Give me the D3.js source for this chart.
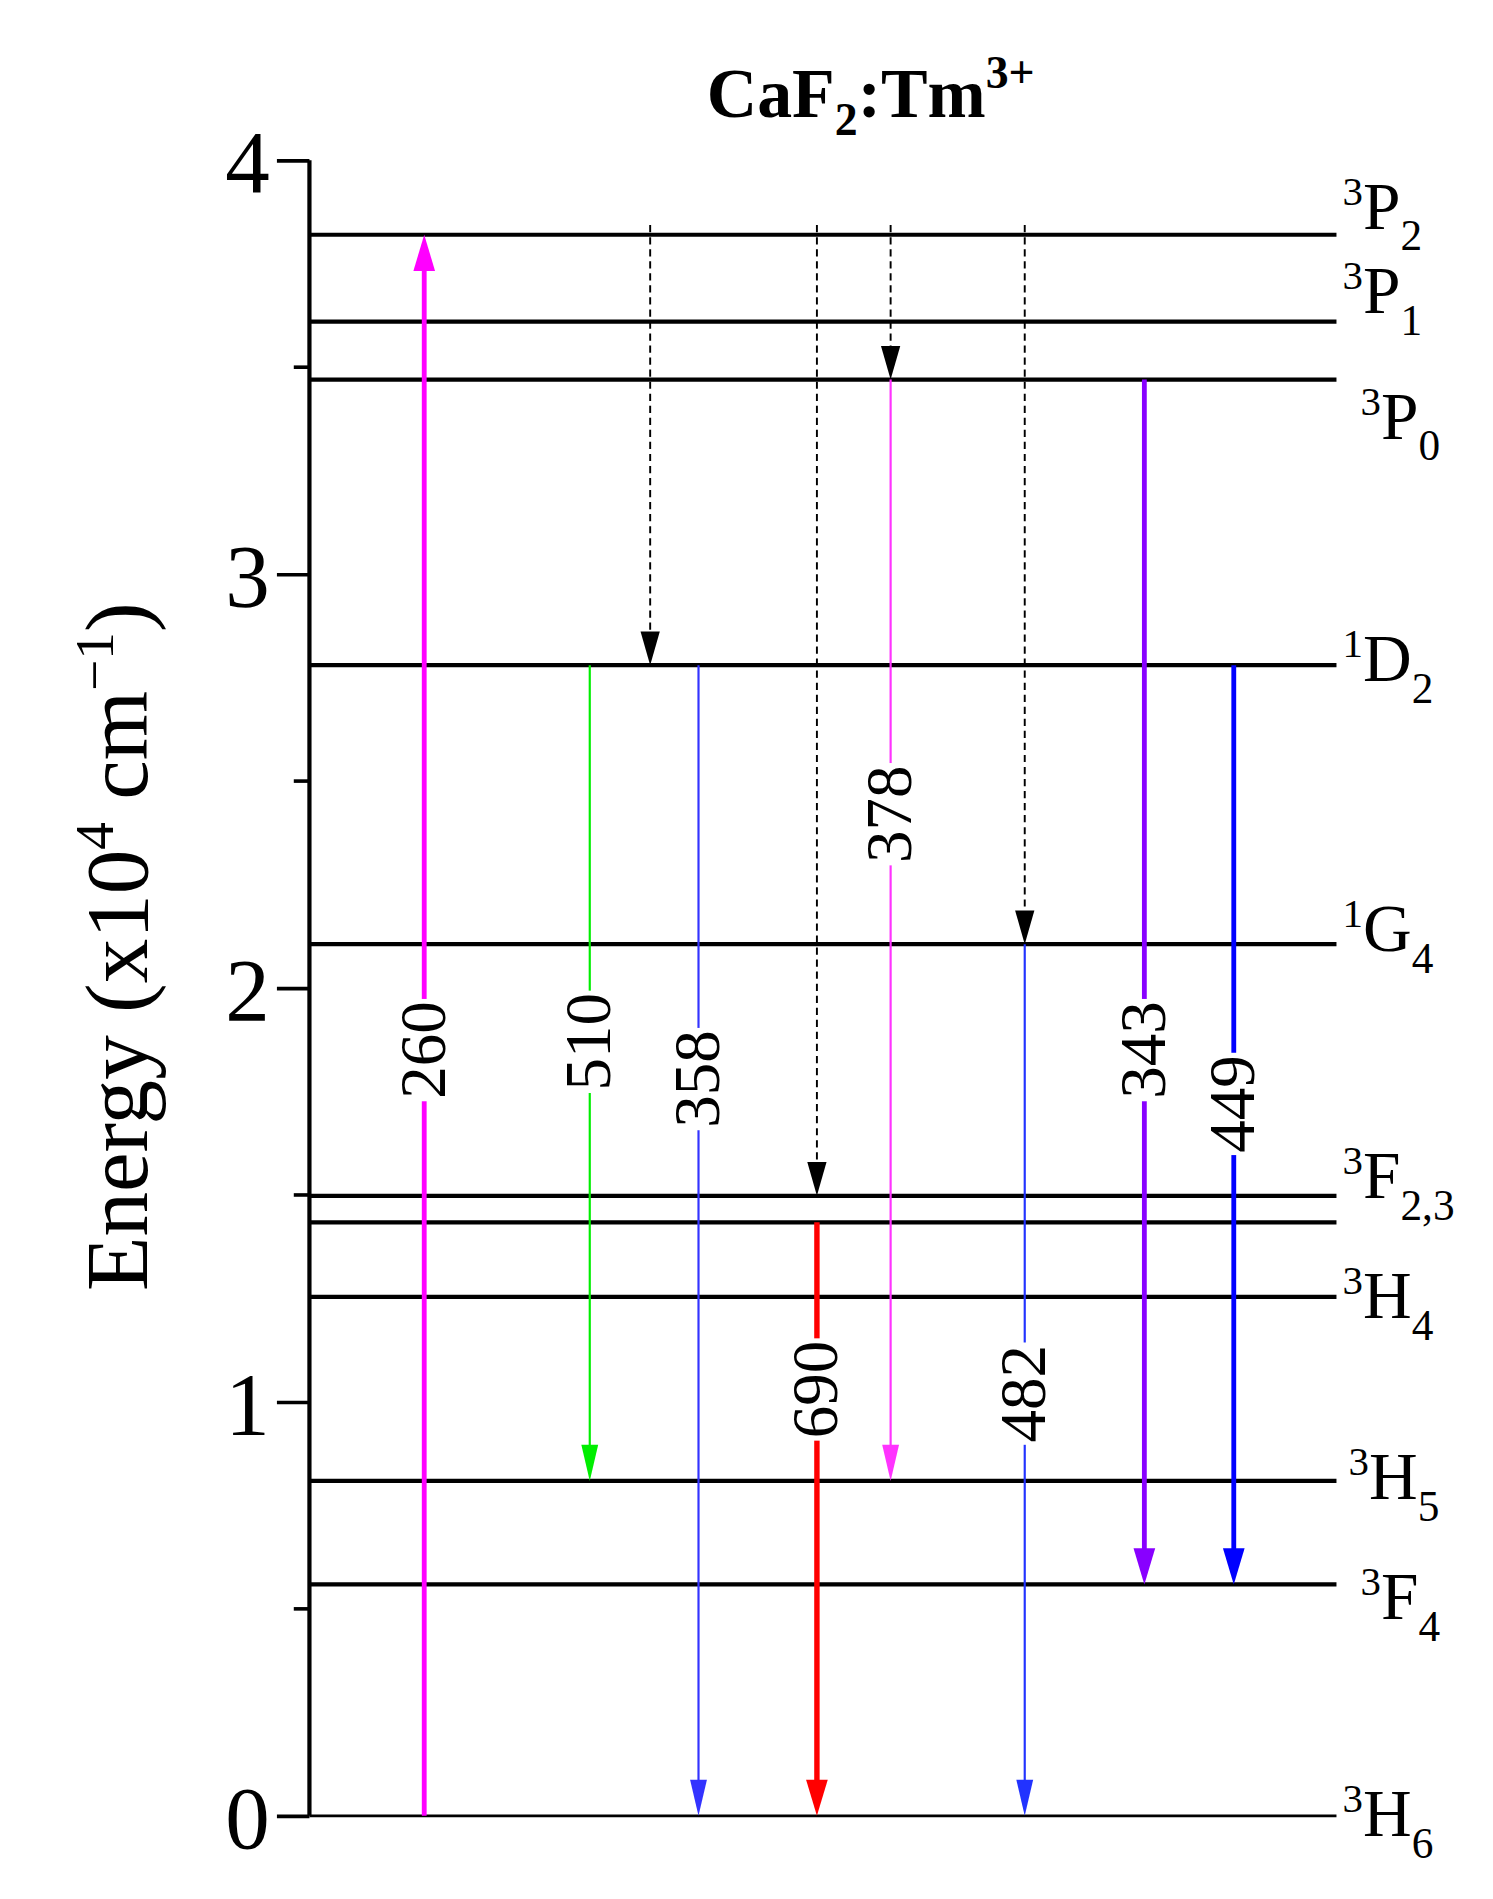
<!DOCTYPE html>
<html><head><meta charset="utf-8">
<script src="https://cdn.jsdelivr.net/npm/d3@7"></script>
<style>body{margin:0;background:#fff}</style>
</head><body>
<script>
// energy levels (x10^4 cm^-1)
const levelNames = ['3P2', '3P1', '3P0', '1D2', '1G4', '3F2', '3F3', '3H4', '3H5', '3F4', '3H6'];
const levelEnergy = [3.82, 3.61, 3.47, 2.78, 2.106, 1.498, 1.434, 1.254, 0.809, 0.559, 0];
// level labels: [sup, letter, sub, level]
const levelLabels = [
  ['3', 'P', '2', '3P2'], ['3', 'P', '1', '3P1'], ['3', 'P', '0', '3P0'], ['1', 'D', '2', '1D2'],
  ['1', 'G', '4', '1G4'], ['3', 'F', '2,3', '3F2'], ['3', 'H', '4', '3H4'], ['3', 'H', '5', '3H5'],
  ['3', 'F', '4', '3F4'], ['3', 'H', '6', '3H6'],
];
// radiative transitions
const transLabel = ['260', '510', '358', '690', '378', '482', '343', '449'];
const transFrom = ['3H6', '1D2', '1D2', '3F3', '3P0', '1G4', '3P0', '1D2'];
const transTo = ['3P2', '3H5', '3H6', '3H6', '3H5', '3H6', '3F4', '3F4'];
const transPos = [0.95, 2.32, 3.22, 4.2, 4.81, 5.92, 6.91, 7.65];
const transLabelE = [1.85, 1.87, 1.78, 1.03, 2.42, 1.02, 1.85, 1.72];
// non-radiative relaxations
const nrPos = [2.82, 4.2, 4.81, 5.92];
const nrTo = ['1D2', '3F2', '3P0', '1G4'];

const transColor = ['#ff00ff', '#00ee00', '#3333ff', '#ff0000', '#ff33ff', '#2233ff', '#8800ff', '#0000ff'];
const transWidth = [4, 1.8, 1.8, 4.5, 1.8, 1.8, 4, 4];

const E = Object.fromEntries(levelNames.map((n, i) => [n, levelEnergy[i]]));

const W = 1240, H = 1577;
const svg = d3.select('body').append('svg')
  .attr('width', 1493).attr('height', 1899)
  .attr('viewBox', `0 0 ${W} ${H}`)
  .style('font-family', '"Liberation Serif", "Times New Roman", serif');

const y = d3.scaleLinear().domain([0, 4]).range([1508, 133]);
const x = d3.scaleLinear().domain([0, 8.5]).range([257, 1110]);

// axis
const axis = d3.axisLeft(y).tickValues([0, 1, 2, 3, 4]).tickSize(27).tickPadding(6).tickFormat(d3.format('d'));
const gAxis = svg.append('g').attr('transform', `translate(${x(0)},0)`).call(axis);
gAxis.select('.domain').attr('stroke-width', 3.5).attr('d', `M0,${y(4)}V${y(0)}`);
gAxis.selectAll('.tick line').attr('stroke-width', 3);
gAxis.selectAll('.tick text').attr('font-size', 74).attr('dy', '0.35em').style('font-family', '"Liberation Serif", serif');
svg.append('g').attr('transform', `translate(${x(0)},0)`)
  .selectAll('line').data(d3.range(0.5, 4, 1)).join('line')
  .attr('x1', -13).attr('x2', 0).attr('y1', (d) => y(d)).attr('y2', (d) => y(d))
  .attr('stroke', '#000').attr('stroke-width', 3);

// y title
svg.append('text')
  .attr('transform', `translate(122,${y(2.1)}) rotate(-90)`)
  .attr('text-anchor', 'middle').attr('font-size', 74)
  .html('Energy (x10<tspan dy="-28" font-size="46">4</tspan><tspan dy="28"> cm</tspan><tspan dy="-28" font-size="46">−1</tspan><tspan dy="28">)</tspan>');

// chart title
svg.append('text').attr('x', 587).attr('y', 97).attr('font-size', 58).attr('font-weight', 'bold')
  .html('CaF<tspan dy="15" font-size="38">2</tspan><tspan dy="-15">:Tm</tspan><tspan dy="-24" font-size="38">3+</tspan>');

// level lines
svg.append('g').selectAll('line').data(levelNames).join('line')
  .attr('x1', x(0)).attr('x2', x(8.5))
  .attr('y1', (d) => y(E[d])).attr('y2', (d) => y(E[d]))
  .attr('stroke', '#000').attr('stroke-width', (d) => (d === '3H6' ? 2.2 : 3.5));

// level labels
const labelOff = { '3P2': [5, -5], '3P1': [5, -7], '3P0': [20, 49], '1D2': [5, 13], '1G4': [5, 6], '3F2': [5, 2], '3H4': [5, 18], '3H5': [10, 15], '3F4': [20, 29], '3H6': [5, 17] };
svg.append('g').selectAll('text').data(levelLabels).join('text')
  .attr('x', (d) => x(8.5) + labelOff[d[3]][0])
  .attr('y', (d) => y(E[d[3]]) + labelOff[d[3]][1])
  .attr('font-size', 56)
  .html((d) => `<tspan dy="-20" font-size="34">${d[0]}</tspan><tspan dy="20">${d[1]}</tspan><tspan dy="18" font-size="36">${d[2]}</tspan>`);

function arrowHead(g, xc, yTip, dir, w, len, color) {
  g.append('path')
    .attr('d', `M${xc},${yTip}L${xc - w},${yTip - dir * len}L${xc + w},${yTip - dir * len}Z`)
    .attr('fill', color);
}

// non-radiative dashed arrows
const gNr = svg.append('g');
nrPos.forEach((p, i) => {
  const yEnd = y(E[nrTo[i]]);
  gNr.append('line').attr('x1', x(p)).attr('x2', x(p))
    .attr('y1', y(E['3P2']) - 8).attr('y2', yEnd - 25)
    .attr('stroke', '#000').attr('stroke-width', 1.6).attr('stroke-dasharray', '6,4');
  arrowHead(gNr, x(p), yEnd, 1, 8, 28, '#000');
});

// radiative arrows
const gT = svg.append('g');
transLabel.forEach((lab, i) => {
  const xc = x(transPos[i]);
  const y1 = y(E[transFrom[i]]);
  const y2 = y(E[transTo[i]]);
  const dir = y2 > y1 ? 1 : -1;
  const thick = transWidth[i] > 3;
  const len = 30;
  gT.append('line').attr('x1', xc).attr('x2', xc)
    .attr('y1', y1).attr('y2', y2 - dir * (len - 2))
    .attr('stroke', transColor[i]).attr('stroke-width', transWidth[i]);
  arrowHead(gT, xc, y2, dir, thick ? 9 : 7, len, transColor[i]);
  const yl = y(transLabelE[i]);
  const t = gT.append('text')
    .attr('transform', `translate(${xc + 17},${yl}) rotate(-90)`)
    .attr('text-anchor', 'middle').attr('font-size', 54).text(lab);
  const bb = t.node().getBBox();
  gT.insert('rect', () => t.node())
    .attr('transform', `translate(${xc + 17},${yl}) rotate(-90)`)
    .attr('x', bb.x - 2).attr('y', bb.y + 6).attr('width', bb.width + 4).attr('height', bb.height - 12)
    .attr('fill', '#fff');
});
</script>
</body></html>
